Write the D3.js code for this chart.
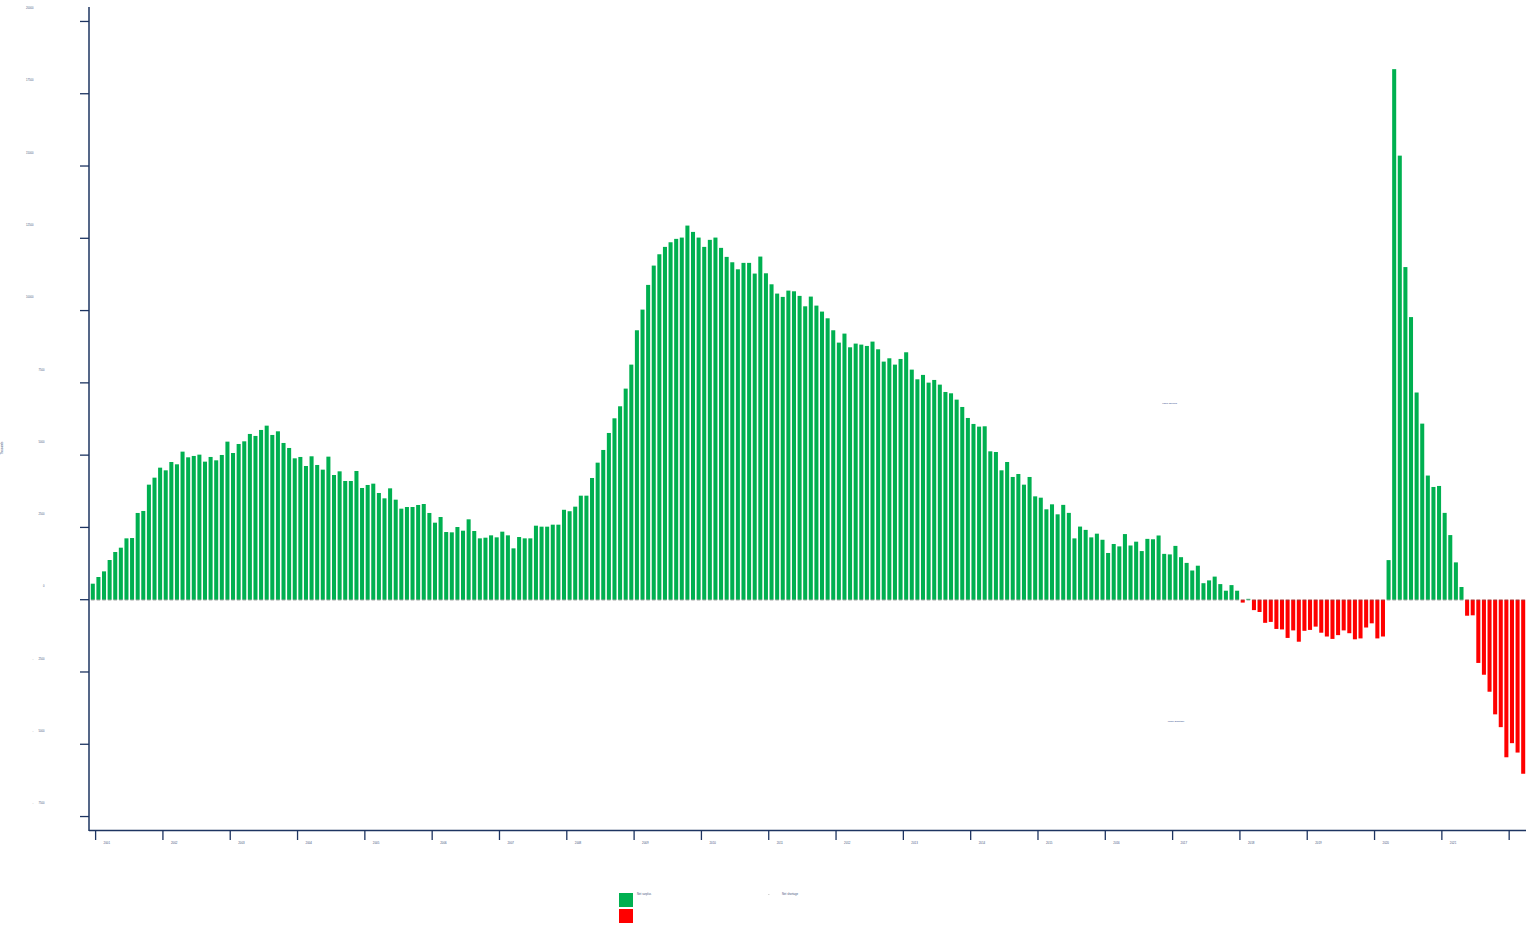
<!DOCTYPE html>
<html><head><meta charset="utf-8">
<script src="https://cdn.jsdelivr.net/npm/d3@7"></script>
<style>html,body{margin:0;padding:0;background:#fff;} svg{display:block;font-family:"Liberation Sans",Arial,sans-serif;}</style>
</head><body>
<svg id="chart" width="1528" height="930"></svg>
<script>
// ---------- DATA ----------
// Monthly net labor surplus (unemployed minus job openings, thousands), Dec 2000 – Mar 2022
const firstMonth = "2000-12";
const netValues = [
  554, 785, 980, 1373, 1650, 1799, 2122, 2133, 3000, 3069, 3979, 4221,
  4567, 4475, 4763, 4683, 5121, 4925, 4972, 5017, 4775, 4937, 4821, 5006,
  5467, 5074, 5386, 5478, 5733, 5664, 5871, 6020, 5698, 5824, 5421, 5248,
  4890, 4937, 4625, 4960, 4660, 4498, 4948, 4313, 4440, 4106, 4106, 4452,
  3864, 3968, 4014, 3691, 3506, 3852, 3460, 3149, 3206, 3206, 3276, 3310,
  3000, 2664, 2860, 2341, 2330, 2514, 2387, 2780, 2376, 2122, 2145, 2226,
  2157, 2353, 2226, 1776, 2168, 2122, 2122, 2560, 2526, 2526, 2595, 2595,
  3110, 3060, 3218, 3598, 3598, 4210, 4740, 5179, 5767, 6274, 6690, 7301,
  8131, 9319, 10034, 10888, 11556, 11948, 12203, 12363, 12480, 12525, 12940, 12721,
  12525, 12203, 12446, 12525, 12169, 11857, 11671, 11428, 11650, 11650, 11280, 11868,
  11290, 10909, 10588, 10473, 10691, 10667, 10508, 10148, 10484, 10172, 9965, 9733,
  9319, 8892, 9204, 8730, 8858, 8823, 8777, 8927, 8661, 8235, 8350, 8131,
  8327, 8558, 7958, 7623, 7775, 7508, 7601, 7439, 7185, 7139, 6920, 6666,
  6286, 6079, 5986, 5998, 5132, 5109, 4475, 4763, 4245, 4348, 3979, 4245,
  3575, 3529, 3126, 3299, 2953, 3280, 3003, 2121, 2529, 2415, 2156, 2284,
  2073, 1616, 1927, 1844, 2270, 1875, 2007, 1682, 2104, 2090, 2221, 1585,
  1567, 1861, 1471, 1273, 1010, 1176, 571, 668, 799, 540, 311, 505,
  311, -100, 30, -360, -425, -800, -768, -1011, -1028, -1322, -1062, -1453,
  -1076, -1045, -931, -1142, -1273, -1356, -1225, -1062, -1159, -1370, -1339, -962,
  -817, -1339, -1273, 1370, 18350, 15359, 11505, 9775, 7166, 6090, 4294, 3899,
  3934, 3003, 2235, 1291, 439, -554, -540, -2187, -2595, -3183, -3965, -4408,
  -5450, -4962, -5287, -6020
];
const tickYears = [2001,2002,2003,2004,2005,2006,2007,2008,2009,2010,2011,2012,2013,2014,2015,2016,2017,2018,2019,2020,2021,2022];
const labeledYears = [2001,2002,2003,2004,2005,2006,2007,2008,2009,2010,2011,2012,2013,2014,2015,2016,2017,2018,2019,2020,2021];
const yTicks = [20000,17500,15000,12500,10000,7500,5000,2500,0,-2500,-5000,-7500];
const seriesNames = ["Net surplus","Net shortage"];
const annotations = [
  {text:"Labor Surplus", month:"2016-11", value:6800},
  {text:"Labor Shortage", month:"2016-12", value:-4200}
];

// ---------- BUILD ----------
const fmtM = d3.timeFormat("%Y-%m");
const parseM = d3.timeParse("%Y-%m");
const start = parseM(firstMonth);
const monthDates = d3.timeMonth.range(start, d3.timeMonth.offset(start, netValues.length));
const months = monthDates.map(fmtM);
const data = months.map((m,i)=>({month:m, value:netValues[i]}));

const NAVY = "#1d3461", GREEN = "#00b050", RED = "#ff0000", TXT = "#44557d";
const svg = d3.select("#chart");

const x = d3.scaleBand().domain(months).range([90,1526]).paddingInner(0.28).paddingOuter(0.14);
const y = d3.scaleLinear().domain([-8000,20500]).range([831,7]);
const gap = (x.step()-x.bandwidth())/2;

// bars
const bars = svg.append("g");
bars.selectAll("rect.pos").data(data.filter(d=>d.value>0)).join("rect")
  .attr("x", d=>x(d.month)).attr("width", x.bandwidth())
  .attr("y", d=>y(d.value)).attr("height", d=>y(0)-y(d.value))
  .attr("fill", GREEN);
bars.selectAll("rect.neg").data(data.filter(d=>d.value<0)).join("rect")
  .attr("x", d=>x(d.month)).attr("width", x.bandwidth())
  .attr("y", y(0)).attr("height", d=>y(d.value)-y(0))
  .attr("fill", RED);
// zero-height companions (stroke only)
bars.selectAll("line.z").data(data).join("line")
  .attr("x1", d=>x(d.month)+0.3).attr("x2", d=>x(d.month)+x.bandwidth()-0.3)
  .attr("y1", y(0)+0.3).attr("y2", y(0)+0.3)
  .attr("stroke", "#666").attr("stroke-width", 0.8).attr("opacity",0.75);

// y axis
const ya = svg.append("g");
ya.append("line").attr("x1",89).attr("x2",89).attr("y1",y.range()[1]).attr("y2",831)
  .attr("stroke",NAVY).attr("stroke-width",1.5);
ya.selectAll("line.t").data(yTicks).join("line")
  .attr("x1",80).attr("x2",89).attr("y1",d=>y(d)).attr("y2",d=>y(d))
  .attr("stroke",NAVY).attr("stroke-width",1.3);
ya.selectAll("text.lab").data(yTicks).join("text")
  .attr("x", d=> Math.abs(d)>=10000 ? 33.5 : 44.5)
  .attr("y", d=>y(d)-13)
  .attr("text-anchor","end").attr("dominant-baseline","middle")
  .attr("font-size",2.7).attr("fill",TXT)
  .text(d=>Math.abs(d));
ya.selectAll("text.neg").data(yTicks.filter(d=>d<0)).join("text")
  .attr("x",33).attr("y",d=>y(d)-13)
  .attr("text-anchor","middle").attr("dominant-baseline","middle")
  .attr("font-size",2.7).attr("fill",TXT).text("-");
svg.append("text").attr("transform",`translate(2.5,${y(5000)-7}) rotate(-90)`)
  .attr("text-anchor","middle").attr("dominant-baseline","middle")
  .attr("font-size",2.6).attr("fill",TXT).text("Thousands");

// x axis
const xa = svg.append("g");
xa.append("line").attr("x1",89).attr("x2",1526).attr("y1",830.5).attr("y2",830.5)
  .attr("stroke",NAVY).attr("stroke-width",1.5);
const tickX = yr => x(yr+"-01") - gap;
xa.selectAll("line.t").data(tickYears).join("line")
  .attr("x1",d=>tickX(d)).attr("x2",d=>tickX(d)).attr("y1",830).attr("y2",840)
  .attr("stroke",NAVY).attr("stroke-width",1.3);
xa.selectAll("text").data(labeledYears).join("text")
  .attr("x",d=>tickX(d)+8).attr("y",843.5)
  .attr("dominant-baseline","middle").attr("font-size",2.9).attr("fill",TXT)
  .text(d=>d);

// annotations
svg.selectAll("text.ann").data(annotations).join("text")
  .attr("x",d=>x(d.month)).attr("y",d=>y(d.value))
  .attr("dominant-baseline","middle").attr("font-size",2.4).attr("fill","#2f4b8a")
  .text(d=>d.text);

// legend
const lg = svg.append("g");
lg.append("rect").attr("x",619).attr("y",893).attr("width",14).attr("height",14).attr("fill",GREEN);
lg.append("rect").attr("x",619).attr("y",909).attr("width",14).attr("height",14).attr("fill",RED);
lg.append("text").attr("x",637).attr("y",894.5).attr("dominant-baseline","middle")
  .attr("font-size",2.8).attr("fill",TXT).text(seriesNames[0]);
lg.append("line").attr("x1",768).attr("x2",769.5).attr("y1",894.5).attr("y2",894.5)
  .attr("stroke","#bbb").attr("stroke-width",0.6);
lg.append("text").attr("x",782).attr("y",894.5).attr("dominant-baseline","middle")
  .attr("font-size",2.8).attr("fill",TXT).text(seriesNames[1]);
</script>
</body></html>
